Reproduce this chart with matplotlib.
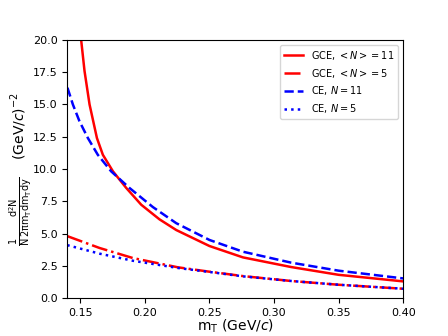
import matplotlib
matplotlib.use("Agg")
import matplotlib.pyplot as plt

# m_T values (GeV/c) and spectra, one set per curve
mt_gce11 = [0.1508, 0.1534, 0.1573, 0.163, 0.1676, 0.1754, 0.1857, 0.1973, 0.2114,
            0.2244, 0.2501, 0.276, 0.3134, 0.35, 0.40]
y_gce11 = [20.0, 17.6, 15.0, 12.4, 11.1, 9.82, 8.53, 7.23, 6.1,
           5.27, 4.03, 3.15, 2.40, 1.80, 1.29]

mt_ce11 = [0.1402, 0.1444, 0.1495, 0.156, 0.1637, 0.174, 0.1882, 0.2063,
           0.2244, 0.2501, 0.276, 0.3134, 0.35, 0.40]
y_ce11 = [16.3, 15.0, 13.7, 12.4, 11.1, 9.82, 8.53, 7.05,
          5.80, 4.50, 3.59, 2.74, 2.12, 1.52]

mt_low = [0.14, 0.165, 0.1908, 0.2257, 0.2501, 0.276, 0.3134, 0.35, 0.40]
y_gce5 = [4.80, 3.88, 3.10, 2.38, 2.04, 1.70, 1.32, 1.03, 0.72]
y_ce5 = [4.10, 3.44, 2.89, 2.33, 2.02, 1.68, 1.32, 1.03, 0.72]

fig, ax = plt.subplots(figsize=(4.48, 3.36), dpi=100)
fig.subplots_adjust(left=0.15, right=0.9, top=0.881, bottom=0.113)

ax.plot(mt_gce11, y_gce11, color="red", lw=1.8, ls="-", label=r"GCE, $<N>=11$")
ax.plot(mt_low, y_gce5, color="red", lw=1.8, ls="-.", label=r"GCE, $<N>=5$")
ax.plot(mt_ce11, y_ce11, color="blue", lw=1.8, ls="--", label=r"CE, $N=11$")
ax.plot(mt_low, y_ce5, color="blue", lw=1.8, ls=":", label=r"CE, $N=5$")

ax.set_xlim(0.14, 0.40)
ax.set_ylim(0, 20)
ax.tick_params(labelsize=8)
ax.set_xlabel(r"$\mathrm{m_T}$ (GeV/$c$)", fontsize=10, labelpad=0)
ax.set_ylabel(r"$\frac{1}{\mathrm{N}}\frac{\mathrm{d^2N}}{\mathrm{2\pi m_T dm_T dy}}$    (GeV/$c$)$^{-2}$",
              fontsize=10)
ax.yaxis.set_label_coords(-0.10, 0.5)
ax.legend(loc="upper right", fontsize=7)

fig.savefig("out.png", dpi=100)
